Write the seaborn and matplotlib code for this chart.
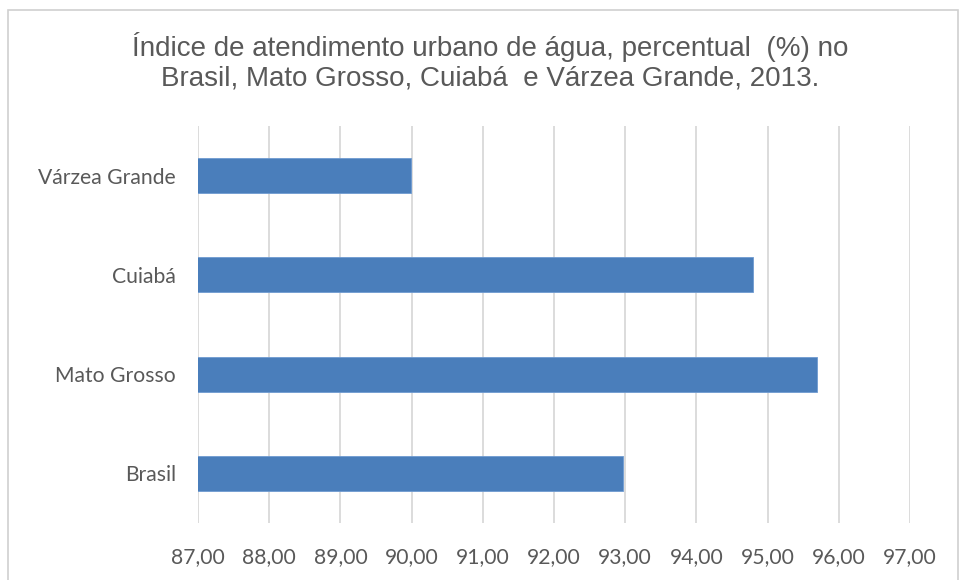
import matplotlib
matplotlib.use("Agg")
import matplotlib.pyplot as plt
import matplotlib.patches as mpatches
import pandas as pd
import seaborn as sns

OUT_FILE = "out.png"

categories = ["Várzea Grande", "Cuiabá", "Mato Grosso", "Brasil"]
values = [89.99, 94.80, 95.70, 92.97]
x_ticks = [87, 88, 89, 90, 91, 92, 93, 94, 95, 96, 97]
title = ("Índice de atendimento urbano de água, percentual  (%) no\n"
         "Brasil, Mato Grosso, Cuiabá  e Várzea Grande, 2013.")

sns.set_theme(style="white")
plt.rcParams["font.family"] = ["Liberation Sans", "DejaVu Sans"]

df = pd.DataFrame({"local": categories, "valor": values})

fig = plt.figure(figsize=(9.6, 5.8), dpi=100)
ax = fig.add_axes([198 / 960, 1 - 523 / 580, (910 - 198) / 960, (523 - 126) / 580])

sns.barplot(data=df, x="valor", y="local", orient="h", color="#4a7ebb",
            saturation=1, width=0.355, edgecolor="#6f9bd1", linewidth=0.6,
            ax=ax, zorder=3)

ax.set_xlim(87, 97)
ax.set_xticks(x_ticks)
ax.set_xticklabels([f"{t:.2f}".replace(".", ",") for t in x_ticks],
                   family=["Lato", "DejaVu Sans"], fontsize=15.2, color="#595959")
ax.set_yticklabels(categories, family=["Lato", "DejaVu Sans"], fontsize=15.2, color="#595959")
ax.tick_params(axis="x", length=0, pad=17)
ax.tick_params(axis="y", length=0, pad=16)
ax.set_xlabel("")
ax.set_ylabel("")
ax.grid(axis="x", color="#d9d9d9", linewidth=1.3, zorder=0)
ax.grid(axis="y", visible=False)
for s in ax.spines.values():
    s.set_visible(False)

fig.text(490 / 960, 1 - 62 / 580, title, ha="center", va="center",
         fontsize=20, color="#595959", linespacing=1.15)

# outer chart frame
fig.patches.append(mpatches.Rectangle((8 / 960, -0.01), (958 - 8) / 960, 1 - 10 / 580 + 0.01,
                                      transform=fig.transFigure, fill=False,
                                      edgecolor="#d0d0d0", linewidth=1.2))

fig.savefig(OUT_FILE, dpi=100)
